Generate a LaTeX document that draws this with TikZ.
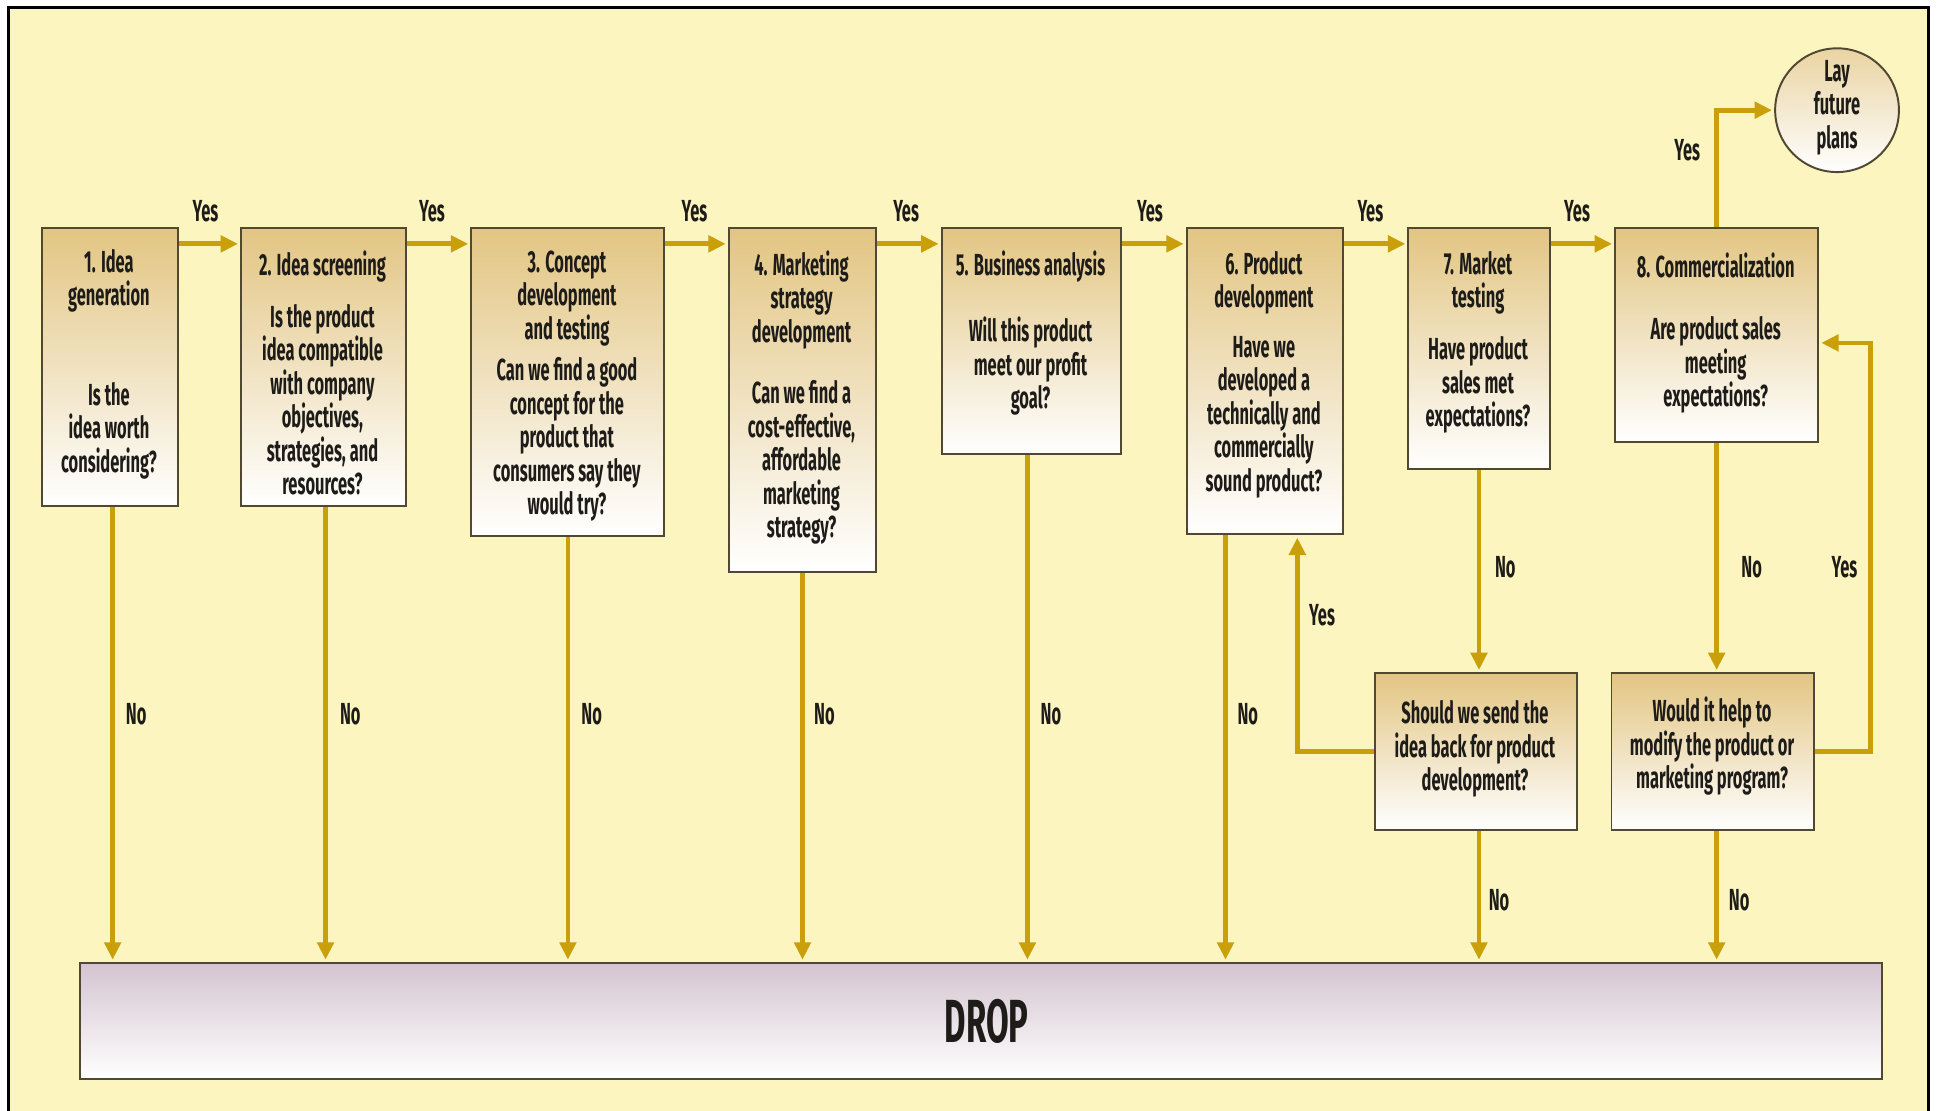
\documentclass[tikz,border=0pt]{standalone}
\usepackage{fontspec}
\setmainfont{Fira Sans}[FakeStretch=0.54]
\usetikzlibrary{arrows.meta}
\definecolor{paper}{RGB}{252,245,192}
\definecolor{gold}{RGB}{201,160,10}
\definecolor{tan}{RGB}{226,197,130}
\definecolor{edge}{RGB}{80,72,48}
\definecolor{mauve}{RGB}{212,196,208}
\definecolor{ink}{RGB}{30,28,24}

\begin{document}
\begin{tikzpicture}[x=0.02cm,y=-0.02cm,
  stepbox/.style={draw=edge,line width=0.9pt,top color=tan,bottom color=white,
    anchor=north west,inner sep=0pt},
  flow/.style={draw=gold,line width=2.2pt,shorten >=1pt,
    -{Triangle[length=8pt,width=7.5pt]}},
  txt/.style={text=ink,align=center,inner sep=0pt,
    font=\fontsize{14}{15.4}\selectfont\bfseries},
  lbl/.style={text=ink,inner sep=0pt,font=\fontsize{14}{15.4}\selectfont\bfseries}]

\useasboundingbox (0,0) rectangle (1568,897);
\fill[white] (0,0) rectangle (1568,897);
\filldraw[fill=paper,draw=black,line width=1.6pt] (7,6) rectangle (1558,930);

% stage boxes
\node[stepbox,minimum width=2.20cm,minimum height=4.50cm] (b1) at (33,183) {};
\node[stepbox,minimum width=2.66cm,minimum height=4.50cm] (b2) at (194,183) {};
\node[stepbox,minimum width=3.12cm,minimum height=4.98cm] (b3) at (380,183) {};
\node[stepbox,minimum width=2.38cm,minimum height=5.56cm] (b4) at (588,183) {};
\node[stepbox,minimum width=2.90cm,minimum height=3.66cm] (b5) at (760,183) {};
\node[stepbox,minimum width=2.52cm,minimum height=4.96cm] (b6) at (958,183) {};
\node[stepbox,minimum width=2.28cm,minimum height=3.90cm] (b7) at (1137,183) {};
\node[stepbox,minimum width=3.28cm,minimum height=3.46cm] (b8) at (1304,183) {};
\node[stepbox,minimum width=3.26cm,minimum height=2.54cm] (send) at (1110,543) {};
\node[stepbox,minimum width=3.28cm,minimum height=2.54cm] (modify) at (1301,543) {};
\node[stepbox,top color=mauve,minimum width=29.12cm,minimum height=1.88cm] (drop) at (64,777) {};
\node[circle,draw=edge,line width=0.9pt,minimum size=2cm,top color=tan!75,
  bottom color=white] (lay) at (1484,89) {};

% box texts
\node[txt] at (88,227) {1. Idea\\generation};
\node[txt] at (88,348) {Is the\\idea worth\\considering?};
\node[txt] at (260.5,215) {2. Idea screening};
\node[txt] at (260.5,323) {Is the product\\idea compatible\\with company\\objectives,\\strategies, and\\resources?};
\node[txt] at (458,241) {3. Concept\\development\\and testing};
\node[txt] at (458,355) {Can we find a good\\concept for the\\product that\\consumers say they\\would try?};
\node[txt] at (647.5,242) {4. Marketing\\strategy\\development};
\node[txt] at (647.5,373.5) {Can we find a\\cost-effective,\\affordable\\marketing\\strategy?};
\node[txt] at (832.5,215) {5. Business analysis};
\node[txt] at (832.5,296) {Will this product\\meet our profit\\goal?};
\node[txt] at (1021,228.5) {6. Product\\development};
\node[txt] at (1021,337) {Have we\\developed a\\technically and\\commercially\\sound product?};
\node[txt] at (1194,228.5) {7. Market\\testing};
\node[txt] at (1194,311) {Have product\\sales met\\expectations?};
\node[txt] at (1386,214) {8. Commercialization};
\node[txt] at (1386,295) {Are product sales\\meeting\\expectations?};
\node[txt] at (1191.5,605) {Should we send the\\idea back for product\\development?};
\node[txt] at (1383,603) {Would it help to\\modify the product or\\marketing program?};
\node[txt] at (1484,87) {Lay\\future\\plans};
\node[text=ink,inner sep=0pt,font=\fontsize{28}{32}\selectfont\bfseries] at (797,825) {DROP};

% "Yes" path along the top
\coordinate (ya) at (0,197);
\draw[flow] (b1.east |- ya) -- (b2.west |- ya);
\draw[flow] (b2.east |- ya) -- (b3.west |- ya);
\draw[flow] (b3.east |- ya) -- (b4.west |- ya);
\draw[flow] (b4.east |- ya) -- (b5.west |- ya);
\draw[flow] (b5.east |- ya) -- (b6.west |- ya);
\draw[flow] (b6.east |- ya) -- (b7.west |- ya);
\draw[flow] (b7.east |- ya) -- (b8.west |- ya);
\draw[flow] (b8.north) |- (lay.west);
\foreach \x in {166,349,561,732,929,1107,1274} \node[lbl] at (\x,171) {Yes};
\node[lbl] at (1363,121) {Yes};

% "No" paths down to DROP
\coordinate (n1) at (91,0);
\coordinate (n2) at (263,0);
\coordinate (n5) at (830,0);
\coordinate (n6) at (990,0);
\draw[flow] (n1 |- b1.south) -- (n1 |- drop.north);
\draw[flow] (n2 |- b2.south) -- (n2 |- drop.north);
\draw[flow] (b3.south) -- (b3.south |- drop.north);
\draw[flow] (b4.south) -- (b4.south |- drop.north);
\draw[flow] (n5 |- b5.south) -- (n5 |- drop.north);
\draw[flow] (n6 |- b6.south) -- (n6 |- drop.north);
\draw[flow] (b7.south) -- (b7.south |- send.north);
\draw[flow] (b7.south |- send.south) -- (b7.south |- drop.north);
\draw[flow] (b8.south) -- (b8.south |- modify.north);
\draw[flow] (b8.south |- modify.south) -- (b8.south |- drop.north);
\foreach \x in {110,283,478,666,849,1008} \node[lbl] at (\x,577) {No};
\node[lbl] at (1216,458) {No};
\node[lbl] at (1415,458) {No};
\node[lbl] at (1211,727) {No};
\node[lbl] at (1405,727) {No};

% loops back for another try
\coordinate (yb) at (1048,607);
\draw[flow] (send.west |- yb) -| (yb |- b6.south);
\node[lbl] at (1068,497) {Yes};
\coordinate (yc) at (1511,607);
\coordinate (yd) at (1511,277);
\draw[flow] (modify.east |- yc) -- (yc) -- (yd) -- (b8.east |- yd);
\node[lbl] at (1490,458) {Yes};
\end{tikzpicture}
\end{document}
